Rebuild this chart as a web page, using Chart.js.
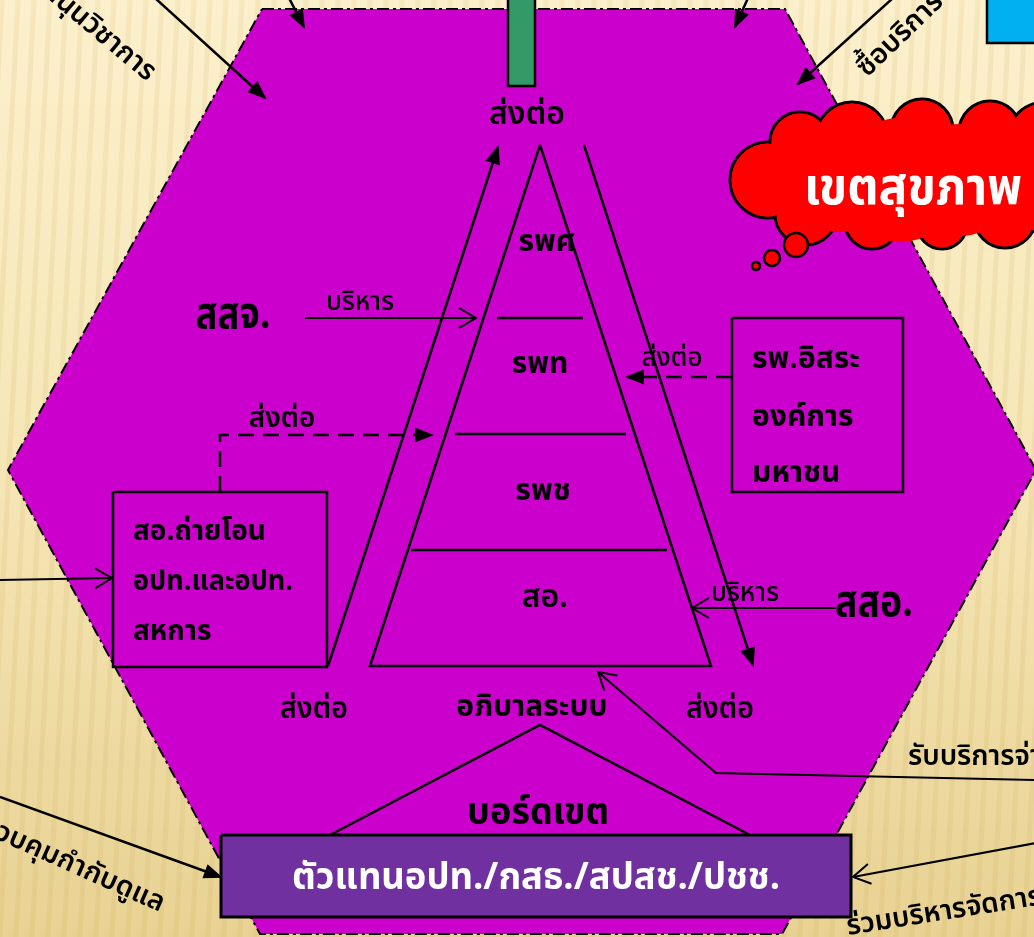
<!DOCTYPE html>
<html>
<head>
<meta charset="utf-8">
<script src="https://cdn.jsdelivr.net/npm/chart.js@4.4.0/dist/chart.umd.min.js"></script>
<style>
  html, body { margin: 0; padding: 0; overflow: hidden; background: #fbefc9; }
  #wrap { width: 1034px; height: 937px; }
</style>
</head>
<body>
<div id="wrap"><canvas id="diagram"></canvas></div>
<script>
// shapes of the diagram, in picture units (x right, y down)
var hexagon = [[262,9],[785,9],[1036,470],[782,934],[260,934],[8,470],[262,9]];
var pyramid = [[540,145],[711,666],[370,666],[540,145]];
var tierLines = [
  [[497,318],[583,318]],
  [[455,434],[626,434]],
  [[411,550],[667,550]]
];
var greenBar = [[508,-5],[535,-5],[535,86],[508,86],[508,-5]];
var blueBox = [[987,-5],[1040,-5],[1040,43],[987,43],[987,-5]];
var leftBox = [[113,492],[327,492],[327,667],[113,667],[113,492]];
var rightBox = [[732,318],[903,318],[903,492],[732,492],[732,318]];
var boardBox = [[221,835],[851,835],[851,917],[221,917],[221,835]];
var boardRoof = [[330,835],[540,725],[750,835]];

// arrows: solid or open heads at the last point
var solidArrows = [
  [[328,666],[498,147]],            // left long, up to ส่งต่อ
  [[584,145],[753,665]],            // right long, down
  [[155,-2],[265,98]],
  [[289,-2],[304,27]],
  [[748,-2],[735,27]],
  [[893,-2],[798,84]],
  [[0,797],[221,877]]
];
var openArrows = [
  [[305,318],[476,318]],            // สสจ. บริหาร
  [[836,608],[692,608]],            // สสอ. บริหาร
  [[1036,780],[716,773],[598,672]], // รับบริการ
  [[1036,843],[853,877]],           // ร่วมบริหาร
  [[-2,580],[112,578]]
];
var dashedArrows = [
  [[220,492],[220,435],[432,435]],
  [[732,377],[627,377]]
];

// cloud lobes [x, y, radius]
var cloudLobes = [
  [768,180,38],[800,142,30],[852,138,36],[922,130,31],[990,132,31],[1045,140,38],
  [806,214,31],[872,222,27],[942,224,25],[1005,217,31],[1040,202,30]
];
var cloudCore = [[900,180,62],[960,180,56],[840,182,50],[1010,177,40]];
var thoughtBubbles = [[796,245,12],[772,258,8],[756,266,4]];

// texts
var labelText = [
  'ส่งต่อ','รพศ','รพท','รพช','สอ.','สสจ.','บริหาร','ส่งต่อ','ส่งต่อ','สสอ.','บริหาร',
  'ส่งต่อ','อภิบาลระบบ','ส่งต่อ','บอร์ดเขต','ตัวแทนอปท./กสธ./สปสช./ปชช.','เขตสุขภาพ',
  'สอ.ถ่ายโอน','อปท.และอปท.','สหการ','รพ.อิสระ','องค์การ','มหาชน',
  'รับบริการจ่ายเงิน','ร่วมบริหารจัดการ','ควบคุมกำกับดูแล','สนับสนุนวิชาการ','ซื้อบริการ'
];
var labelX = [527,547,540,543,545,233,360,282,672,874,745,314,532,720,538,536,913,
  133,133,133,752,752,752,908,848,160,147,867];
var labelY = [118,245,367,494,601,319,305,421,361,607,596,712,710,712,816,881,193,
  534,584,634,362,420,476,759,935,912,82,78];

// styles for each text: [size, weight, colour, align, rotation deg, max width]
var labelStyle = [
  [32,600,'#000','center',0,76],[30,700,'#000','center',0,60],[30,700,'#000','center',0,61],
  [30,700,'#000','center',0,60],[32,600,'#000','center',0,48],[44,700,'#000','center',0,75],
  [26,500,'#000','center',0,76],[28,600,'#000','center',0,68],[26,500,'#000','center',0,62],
  [44,700,'#000','center',0,78],[26,500,'#000','center',0,76],[30,600,'#000','center',0,68],
  [30,700,'#000','center',0,160],[30,600,'#000','center',0,68],[38,700,'#000','center',0,142],
  [38,700,'#fff','center',0,488],[52,700,'#fff','center',0,218],
  [28,700,'#000','left',0,133],[28,700,'#000','left',0,160],[28,700,'#000','left',0,80],
  [30,700,'#000','left',0,118],[30,700,'#000','left',0,112],[30,700,'#000','left',0,92],
  [28,600,'#000','left',0,0],[28,600,'#000','left',-9,0],[28,600,'#000','right',24,0],
  [28,600,'#000','right',40,0],[28,600,'#000','left',-44,0]
];

var FONT = '"Noto Sans Thai", "Noto Sans", "DejaVu Sans", sans-serif';

function pts(list) {
  return list.map(function (p) { return { x: p[0], y: p[1] }; });
}
function bubbles(list, shrink) {
  return list.map(function (p) { return { x: p[0], y: p[1], r: p[2] - shrink }; });
}
function path(list, extra) {
  var ds = {
    type: 'scatter', showLine: true, data: pts(list),
    borderColor: '#000', borderWidth: 2.5, pointRadius: 0, fill: false,
    borderJoinStyle: 'miter', tension: 0
  };
  for (var k in extra) ds[k] = extra[k];
  return ds;
}

// datasets in painting order
var sets = [];
sets.push(path(hexagon, { fill: 'shape', backgroundColor: '#cc00cc', borderWidth: 2, borderDash: [12,4,3,4] }));
sets.push(path(greenBar, { fill: 'shape', backgroundColor: '#339966', borderWidth: 2.5 }));
sets.push(path(blueBox, { fill: 'shape', backgroundColor: '#00b0f0', borderWidth: 2.5 }));
sets.push({ type: 'bubble', data: bubbles(cloudLobes, 0), backgroundColor: '#ff0000', borderColor: '#000', borderWidth: 3 });
sets.push({ type: 'bubble', data: bubbles(cloudLobes, 1.6), backgroundColor: '#ff0000', borderWidth: 0 });
sets.push({ type: 'bubble', data: bubbles(cloudCore, 0), backgroundColor: '#ff0000', borderWidth: 0 });
sets.push({ type: 'bubble', data: bubbles(thoughtBubbles, 0), backgroundColor: '#ff0000', borderColor: '#000', borderWidth: 2.5 });
sets.push(path(pyramid));
tierLines.forEach(function (l) { sets.push(path(l)); });
sets.push(path(leftBox));
sets.push(path(rightBox));
sets.push(path(boardRoof));
solidArrows.forEach(function (l) { sets.push(path(l, { arrow: 'solid' })); });
openArrows.forEach(function (l) { sets.push(path(l, { arrow: 'open', borderWidth: 2 })); });
dashedArrows.forEach(function (l) { sets.push(path(l, { arrow: 'solid', borderDash: [16,9], borderWidth: 2.5 })); });
sets.push(path(boardBox, { fill: 'shape', backgroundColor: '#7030a0', borderWidth: 3 }));
sets.forEach(function (ds, i) { ds.order = sets.length - i; });

var paper = {
  id: 'paper',
  beforeDraw: function (chart) {
    var ctx = chart.ctx, w = chart.width, h = chart.height;
    var g = ctx.createLinearGradient(0, 0, 0, h);
    g.addColorStop(0, '#fcf0cc');
    g.addColorStop(0.5, '#f6e6b6');
    g.addColorStop(1, '#e8d293');
    ctx.save();
    ctx.fillStyle = g;
    ctx.fillRect(0, 0, w, h);
    ctx.lineWidth = 5;
    for (var x = -80; x < w + 80; x += 16) {
      ctx.strokeStyle = 'rgba(190,150,60,0.10)';
      ctx.beginPath();
      ctx.moveTo(x, h);
      ctx.lineTo(x + 50, 0);
      ctx.stroke();
    }
    ctx.restore();
  }
};

var heads = {
  id: 'heads',
  afterDatasetsDraw: function (chart) {
    var ctx = chart.ctx;
    chart.data.datasets.forEach(function (ds, i) {
      if (!ds.arrow) return;
      var el = chart.getDatasetMeta(i).data;
      var a = el[el.length - 2], b = el[el.length - 1];
      var ang = Math.atan2(b.y - a.y, b.x - a.x);
      ctx.save();
      ctx.translate(b.x, b.y);
      ctx.rotate(ang);
      ctx.setLineDash([]);
      ctx.fillStyle = '#000';
      ctx.strokeStyle = '#000';
      if (ds.arrow === 'solid') {
        ctx.beginPath();
        ctx.moveTo(2, 0);
        ctx.lineTo(-17, -7.5);
        ctx.lineTo(-17, 7.5);
        ctx.closePath();
        ctx.fill();
      } else {
        ctx.lineWidth = 2;
        ctx.beginPath();
        ctx.moveTo(-17, -10);
        ctx.lineTo(0, 0);
        ctx.lineTo(-17, 10);
        ctx.stroke();
      }
      ctx.restore();
    });
  }
};

var words = {
  id: 'words',
  afterDraw: function (chart) {
    var ctx = chart.ctx, sx = chart.scales.x, sy = chart.scales.y;
    labelText.forEach(function (t, i) {
      var s = labelStyle[i];
      var px = sx.getPixelForValue(labelX[i]), py = sy.getPixelForValue(labelY[i]);
      ctx.save();
      ctx.translate(px, py);
      if (s[4]) ctx.rotate(s[4] * Math.PI / 180);
      ctx.font = s[1] + ' ' + s[0] + 'px ' + FONT;
      ctx.fillStyle = s[2];
      ctx.textAlign = s[3];
      ctx.textBaseline = s[4] ? 'alphabetic' : 'middle';
      if (s[5]) ctx.fillText(t, 0, 0, s[5]); else ctx.fillText(t, 0, 0);
      ctx.restore();
    });
  }
};

new Chart(document.getElementById('diagram'), {
  type: 'scatter',
  data: { datasets: sets },
  options: {
    responsive: true,
    maintainAspectRatio: false,
    animation: false,
    events: [],
    layout: { padding: 0, autoPadding: false },
    plugins: { legend: { display: false }, tooltip: { enabled: false } },
    scales: {
      x: { type: 'linear', min: 0, max: 1034, display: false },
      y: { type: 'linear', min: 0, max: 937, reverse: true, display: false }
    }
  },
  plugins: [paper, heads, words]
});
</script>
</body>
</html>
